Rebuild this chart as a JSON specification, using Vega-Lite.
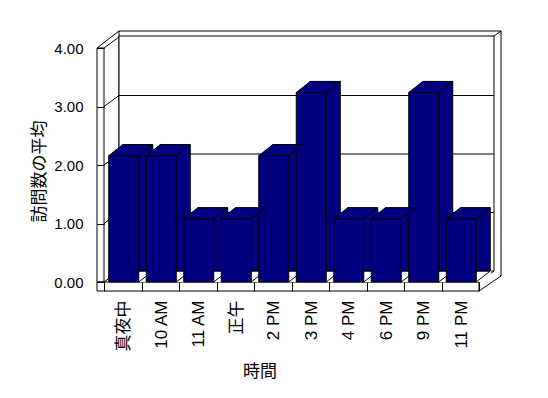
{
  "$schema": "https://vega.github.io/schema/vega-lite/v6.json",
  "width": 375,
  "height": 234,
  "autosize": {"type": "none"},
  "padding": {"left": 104, "top": 48, "right": 69, "bottom": 116},
  "background": "white",
  "config": {"view": {"stroke": null}},
  "datasets": {
    "visits": [
      {"time": "真夜中", "avg": 2.16},
      {"time": "10 AM", "avg": 2.16},
      {"time": "11 AM", "avg": 1.08},
      {"time": "正午", "avg": 1.08},
      {"time": "2 PM", "avg": 2.16},
      {"time": "3 PM", "avg": 3.24},
      {"time": "4 PM", "avg": 1.08},
      {"time": "6 PM", "avg": 1.08},
      {"time": "9 PM", "avg": 3.24},
      {"time": "11 PM", "avg": 1.08}
    ],
    "one": [{}],
    "gridticks": [{"tick": 1}, {"tick": 2}, {"tick": 3}],
    "walltiks": [{"tick": 0}, {"tick": 1}, {"tick": 2}, {"tick": 3}, {"tick": 4}]
  },
  "layer": [
    {
      "data": {"name": "one"},
      "mark": {"type": "rect", "fill": "white", "stroke": "black", "strokeWidth": 1, "xOffset": 15, "x2Offset": 22, "yOffset": -17, "y2Offset": -6},
      "encoding": {
        "x": {"datum": "真夜中", "type": "nominal", "bandPosition": 0},
        "x2": {"datum": "11 PM", "bandPosition": 1},
        "y": {"datum": 4, "type": "quantitative"}, "y2": {"datum": 0}
      }
    },
    {
      "data": {"name": "one"},
      "mark": {"type": "rect", "fill": "white", "strokeWidth": 0, "xOffset": -7, "x2Offset": 21, "yOffset": -10, "y2Offset": 10},
      "encoding": {
        "x": {"datum": "真夜中", "type": "nominal", "bandPosition": 0},
        "x2": {"datum": "11 PM", "bandPosition": 1},
        "y": {"datum": 0, "type": "quantitative"}, "y2": {"datum": 0}
      }
    },
    {
      "data": {"name": "one"},
      "mark": {"type": "rect", "fill": "white", "stroke": "black", "strokeWidth": 1, "xOffset": 15, "x2Offset": 15, "yOffset": -12, "y2Offset": -11},
      "encoding": {
        "x": {"datum": "真夜中", "type": "nominal", "bandPosition": 0},
        "x2": {"datum": "11 PM", "bandPosition": 1},
        "y": {"datum": 4, "type": "quantitative"}, "y2": {"datum": 0}
      }
    },
    {
      "data": {"name": "gridticks"},
      "mark": {"type": "rule", "stroke": "black", "strokeWidth": 1, "xOffset": 15, "x2Offset": 15, "yOffset": -11},
      "encoding": {
        "x": {"datum": "真夜中", "type": "nominal", "bandPosition": 0},
        "x2": {"datum": "11 PM", "bandPosition": 1},
        "y": {"field": "tick", "type": "quantitative"}
      }
    },
    {
      "data": {"name": "walltiks"},
      "mark": {"type": "point", "shape": "M0,0L15,-11", "size": 4, "filled": false, "stroke": "black", "strokeWidth": 1, "opacity": 1, "xOffset": -187.5},
      "encoding": {"y": {"field": "tick", "type": "quantitative"}}
    },
    {
      "data": {"name": "one"},
      "mark": {"type": "rect", "fill": "white", "stroke": "black", "strokeWidth": 1, "xOffset": -7, "x2Offset": 0},
      "encoding": {
        "x": {"datum": "真夜中", "type": "nominal", "bandPosition": 0},
        "x2": {"datum": "真夜中", "bandPosition": 0},
        "y": {"datum": 4, "type": "quantitative"}, "y2": {"datum": 0}
      }
    },
    {
      "data": {"name": "one"},
      "mark": {"type": "point", "shape": "M-7,0L15,-17", "size": 4, "filled": false, "stroke": "black", "strokeWidth": 1, "opacity": 1, "xOffset": -187.5},
      "encoding": {"y": {"datum": 4, "type": "quantitative"}}
    },
    {
      "data": {"name": "one"},
      "mark": {"type": "point", "shape": "M15,-12L22,-17", "size": 4, "filled": false, "stroke": "black", "strokeWidth": 1, "opacity": 1, "xOffset": 187.5},
      "encoding": {"y": {"datum": 4, "type": "quantitative"}}
    },
    {
      "data": {"name": "one"},
      "mark": {"type": "rect", "fill": "white", "stroke": "black", "strokeWidth": 1, "xOffset": -7, "x2Offset": 0, "y2Offset": 9},
      "encoding": {
        "x": {"datum": "真夜中", "type": "nominal", "bandPosition": 0},
        "x2": {"datum": "11 PM", "bandPosition": 1},
        "y": {"datum": 0, "type": "quantitative"}, "y2": {"datum": 0}
      }
    },
    {
      "data": {"name": "one"},
      "mark": {"type": "point", "shape": "M0,0L15,-11M0,9L22,-6", "size": 4, "filled": false, "stroke": "black", "strokeWidth": 1, "opacity": 1, "xOffset": 187.5},
      "encoding": {"y": {"datum": 0, "type": "quantitative"}}
    },
    {
      "data": {"name": "visits"},
      "mark": {"type": "bar", "width": {"band": 0.8}, "xOffset": 15, "yOffset": -11, "fill": "#000080", "stroke": "black", "strokeWidth": 1},
      "encoding": {
        "x": {"field": "time", "type": "nominal", "sort": null, "scale": {"domain": ["真夜中", "10 AM", "11 AM", "正午", "2 PM", "3 PM", "4 PM", "6 PM", "9 PM", "11 PM"], "paddingInner": 0, "paddingOuter": 0}},
        "y": {"field": "avg", "type": "quantitative", "scale": {"domain": [0, 4], "nice": false}}
      }
    },
    {
      "data": {"name": "visits"},
      "mark": {"type": "point", "shape": "M15,0L29,-11L29.6,-11L29.6,0Z", "size": 4, "filled": true, "fill": "white", "strokeWidth": 0, "opacity": 1, "xOffset": 1},
      "encoding": {
        "x": {"field": "time", "type": "nominal", "sort": null},
        "y": {"datum": 0, "type": "quantitative"}
      }
    },
    {
      "data": {"name": "visits"},
      "mark": {"type": "point", "shape": "M15,0L29,-11", "size": 4, "filled": false, "stroke": "black", "strokeWidth": 1, "opacity": 1, "xOffset": 1},
      "encoding": {
        "x": {"field": "time", "type": "nominal", "sort": null},
        "y": {"datum": 0, "type": "quantitative"}
      }
    },
    {
      "data": {"name": "visits"},
      "mark": {"type": "bar", "width": {"band": 0.8}, "xOffset": 1, "fill": "#000080", "stroke": "black", "strokeWidth": 1},
      "encoding": {
        "x": {
          "field": "time", "type": "nominal", "sort": null,
          "axis": {
            "title": "時間",
            "titleFont": "Noto Sans CJK JP",
            "titleFontSize": 17,
            "titleFontWeight": "normal",
            "titleColor": "black",
            "titleX": 155.5,
            "titlePadding": 13,
            "domain": false,
            "grid": false,
            "tickBand": "extent",
            "tickSize": 9,
            "tickColor": "black",
            "tickWidth": 1,
            "tickOpacity": {"condition": {"test": "datum.extra === true", "value": 0}, "value": 1},
            "labelAngle": -90,
            "labelPadding": 9,
            "labelOffset": 1,
            "labelFont": "Liberation Sans, Noto Sans CJK JP",
            "labelFontSize": 17,
            "labelColor": "black",
            "zindex": 1
          }
        },
        "y": {
          "field": "avg", "type": "quantitative",
          "axis": {
            "title": "訪問数の平均",
            "titleFont": "Noto Sans CJK JP",
            "titleFontSize": 17,
            "titleFontWeight": "normal",
            "titleColor": "black",
            "titlePadding": 5,
            "titleY": 123,
            "values": [0, 1, 2, 3, 4],
            "format": ".2f",
            "domain": false,
            "grid": false,
            "tickSize": 7,
            "tickColor": "black",
            "tickWidth": 1,
            "labelPadding": 14,
            "labelFont": "Liberation Sans",
            "labelFontSize": 15,
            "labelColor": "black",
            "zindex": 1
          }
        }
      }
    },
    {
      "data": {"name": "visits"},
      "mark": {"type": "point", "shape": "M-15,0L15,0L29,-11L-1,-11Z", "size": 4, "filled": true, "fill": "#000080", "stroke": "black", "strokeWidth": 1, "opacity": 1, "xOffset": 1},
      "encoding": {
        "x": {"field": "time", "type": "nominal", "sort": null},
        "y": {"field": "avg", "type": "quantitative"}
      }
    }
  ]
}
